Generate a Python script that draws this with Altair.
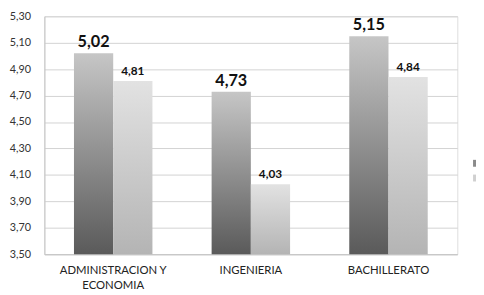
import altair as alt
import pandas as pd

categories = ["ADMINISTRACION Y ECONOMIA", "INGENIERIA", "BACHILLERATO"]
series_names = ["Serie 1", "Serie 2"]
serie1 = [5.02, 4.73, 5.15]
serie2 = [4.81, 4.03, 4.84]
y_ticks = [3.5, 3.7, 3.9, 4.1, 4.3, 4.5, 4.7, 4.9, 5.1, 5.3]

rows = []
for c, a, b in zip(categories, serie1, serie2):
    rows.append({"cat": c, "serie": series_names[0], "val": a})
    rows.append({"cat": c, "serie": series_names[1], "val": b})
df = pd.DataFrame(rows)

FONT = "Lato"

x_enc = alt.X(
    "cat:N",
    sort=categories,
    scale=alt.Scale(paddingInner=0.43, paddingOuter=0.215),
    axis=alt.Axis(
        title=None,
        labelAngle=0,
        labelExpr="datum.value == 'ADMINISTRACION Y ECONOMIA' ? ['ADMINISTRACION Y', 'ECONOMIA'] : datum.value",
        labelFont=FONT,
        labelFontSize=11.5,
        labelColor="#222222",
        labelPadding=11,
        labelLineHeight=15,
        ticks=False,
        domainColor="#c4c4c4",
        domainWidth=1,
    ),
)
y_enc = alt.Y(
    "val:Q",
    scale=alt.Scale(domain=[3.5, 5.3], zero=False, nice=False, clamp=True),
    axis=alt.Axis(
        title=None,
        values=y_ticks,
        labelExpr="replace(format(datum.value, '.2f'), '.', ',')",
        labelFont=FONT,
        labelFontSize=11,
        labelColor="#333333",
        labelPadding=14,
        ticks=False,
        grid=True,
        gridColor="#d2d2d2",
        gridWidth=1,
        domainColor="#c4c4c4",
    ),
)
xoff = alt.XOffset("serie:N", scale=alt.Scale(domain=series_names, paddingInner=0, paddingOuter=0))

grad_dark = alt.LinearGradient(
    gradient="linear", x1=0, y1=0, x2=0, y2=1,
    stops=[alt.GradientStop(color="#c6c6c6", offset=0),
           alt.GradientStop(color="#5a5a5a", offset=1)],
)
grad_light = alt.LinearGradient(
    gradient="linear", x1=0, y1=0, x2=0, y2=1,
    stops=[alt.GradientStop(color="#e2e2e2", offset=0),
           alt.GradientStop(color="#b4b4b4", offset=1)],
)

base = alt.Chart(df)

bars1 = base.transform_filter(alt.datum.serie == series_names[0]).mark_bar(
    color=grad_dark
).encode(x=x_enc, xOffset=xoff, y=y_enc, y2=alt.datum(3.5))

bars2 = base.transform_filter(alt.datum.serie == series_names[1]).mark_bar(
    color=grad_light
).encode(x=x_enc, xOffset=xoff, y=y_enc, y2=alt.datum(3.5))

lab_expr = "replace(format(datum.val, '.2f'), '.', ',')"
text1 = base.transform_filter(alt.datum.serie == series_names[0]).transform_calculate(
    lab=lab_expr
).mark_text(
    font=FONT, fontSize=16.5, fontWeight="bold", color="#111111", baseline="bottom", dy=-3
).encode(x=x_enc, xOffset=xoff, y=y_enc, text="lab:N")

text2 = base.transform_filter(alt.datum.serie == series_names[1]).transform_calculate(
    lab=lab_expr
).mark_text(
    font=FONT, fontSize=12, fontWeight="bold", color="#111111", baseline="bottom", dy=-3
).encode(x=x_enc, xOffset=xoff, y=y_enc, text="lab:N")

legend_layer = base.mark_square(opacity=0).encode(
    x=x_enc, xOffset=xoff, y=y_enc,
    fill=alt.Fill(
        "serie:N",
        scale=alt.Scale(domain=series_names, range=["#8a8a8a", "#d0d0d0"]),
        legend=alt.Legend(
            title=None, orient="none", legendX=436, legendY=146,
            symbolType="square", symbolSize=49, symbolOpacity=1, symbolStrokeWidth=0,
            labelExpr="''", labelFontSize=1, labelLimit=1, rowPadding=8,
        ),
    ),
)

chart = alt.layer(bars1, bars2, text1, text2, legend_layer).properties(
    width=420, height=242,
    autosize=alt.AutoSizeParams(type="none"),
    padding={"left": 37, "top": 6, "right": 19, "bottom": 38},
).configure_view(stroke=None).configure(background="white")

chart.save("out.html", embed_options={"renderer": "svg", "actions": False})
